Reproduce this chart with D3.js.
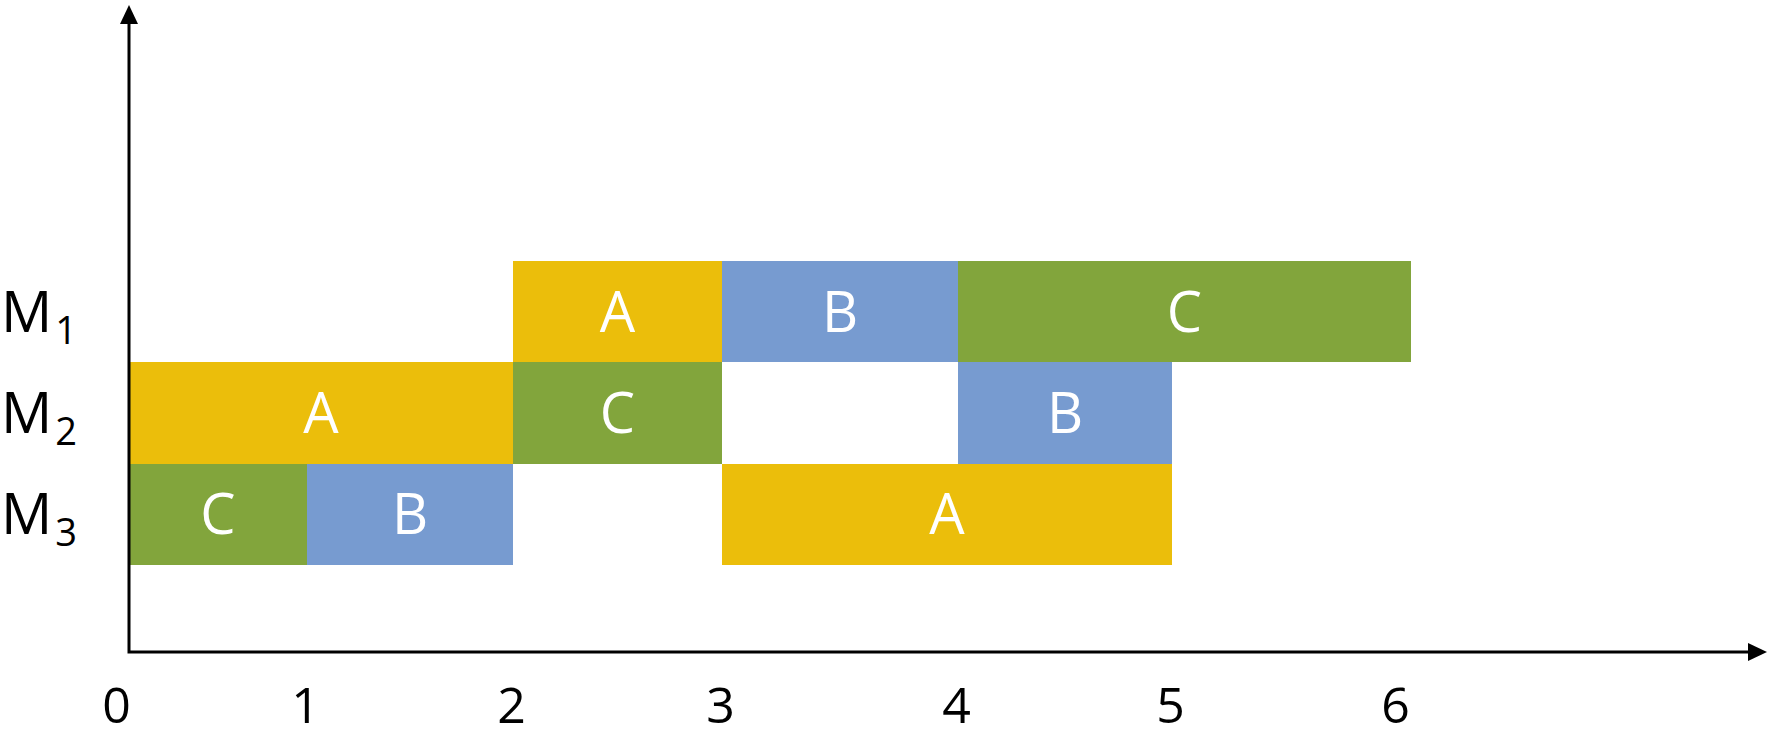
<!DOCTYPE html>
<html>
<head>
<meta charset="utf-8">
<script src="https://cdn.jsdelivr.net/npm/d3@7"></script>
<style>
  html, body { margin: 0; padding: 0; background: #fff; }
  svg { display: block; }
</style>
</head>
<body>
<script>
// ---- Data ----
const machines = ["M1", "M2", "M3"];
const machineSubscripts = ["1", "2", "3"];
const jobs = ["A", "B", "C"];
const taskMachine = ["M1", "M1", "M1", "M2", "M2", "M2", "M3", "M3", "M3"];
const taskJob     = ["A",  "B",  "C",  "A",  "C",  "B",  "C",  "B",  "A"];
const taskStart   = [2, 3, 4, 0, 2, 4, 0, 1, 3];
const taskEnd     = [3, 4, 6, 2, 3, 5, 1, 2, 5];
const xTicks = [0, 1, 2, 3, 4, 5, 6];

// ---- Layout ----
const W = 1772, H = 738;
const originX = 129, axisY = 652;
const font = "'Open Sans', 'Noto Sans', sans-serif";

const svg = d3.select("body").append("svg")
  .attr("width", W).attr("height", H);

// hand-placed time grid of the original drawing (piecewise linear scale)
const x = d3.scaleLinear()
  .domain(xTicks)
  .range([129, 307, 513, 722, 958, 1172, 1411]);

const y = d3.scaleBand()
  .domain(machines)
  .range([261, 565])
  .padding(0);

const color = d3.scaleOrdinal()
  .domain(jobs)
  .range(["#EBBE0B", "#779BD0", "#82A53C"]);

const tasks = taskJob.map((j, i) => ({
  job: j, machine: taskMachine[i], start: taskStart[i], end: taskEnd[i]
}));

// ---- Bars ----
const g = svg.append("g");
g.selectAll("rect.task").data(tasks).join("rect")
  .attr("class", "task")
  .attr("x", d => x(d.start))
  .attr("y", d => y(d.machine))
  .attr("width", d => x(d.end) - x(d.start))
  .attr("height", y.bandwidth())
  .attr("fill", d => color(d.job))
  .attr("shape-rendering", "crispEdges");

g.selectAll("text.task").data(tasks).join("text")
  .attr("class", "task")
  .attr("x", d => (x(d.start) + x(d.end)) / 2)
  .attr("y", d => y(d.machine) + y.bandwidth() / 2 + 20)
  .attr("text-anchor", "middle")
  .attr("font-family", font)
  .attr("font-size", 56)
  .attr("fill", "#fff")
  .text(d => d.job);

// ---- Axes ----
const axisColor = "#000";
svg.append("path")
  .attr("d", `M${originX},24 V${axisY} H1748`)
  .attr("fill", "none")
  .attr("stroke", axisColor)
  .attr("stroke-width", 3)
  .attr("stroke-linejoin", "miter");

// arrowheads
svg.append("path")
  .attr("d", `M${originX},5 L${originX + 9},24 L${originX - 9},24 Z`)
  .attr("fill", axisColor);
svg.append("path")
  .attr("d", `M1767,${axisY} L1748,${axisY - 9} L1748,${axisY + 9} Z`)
  .attr("fill", axisColor);

// x tick labels
const xAxis = svg.append("g")
  .attr("transform", `translate(0,${axisY})`)
  .call(d3.axisBottom(x).tickValues(xTicks).tickSize(0).tickPadding(35).tickFormat(d3.format("d")));
xAxis.select(".domain").remove();
xAxis.selectAll("text")
  .attr("font-family", font)
  .attr("font-size", 50)
  .attr("fill", "#000")
  .attr("dx", d => d === 0 ? -13 : d === 6 ? -16 : -2);

// y row labels with subscripts
const rowLabels = svg.append("g");
machines.forEach((m, i) => {
  const t = rowLabels.append("text")
    .attr("x", 1)
    .attr("y", y(m) + y.bandwidth() / 2 + 20)
    .attr("font-family", font)
    .attr("font-size", 57)
    .attr("fill", "#000");
  t.append("tspan").attr("textLength", 50).text("M");
  t.append("tspan")
    .attr("font-size", 38)
    .attr("dy", 12)
    .attr("dx", 3)
    .text(machineSubscripts[i]);
});
</script>
</body>
</html>
